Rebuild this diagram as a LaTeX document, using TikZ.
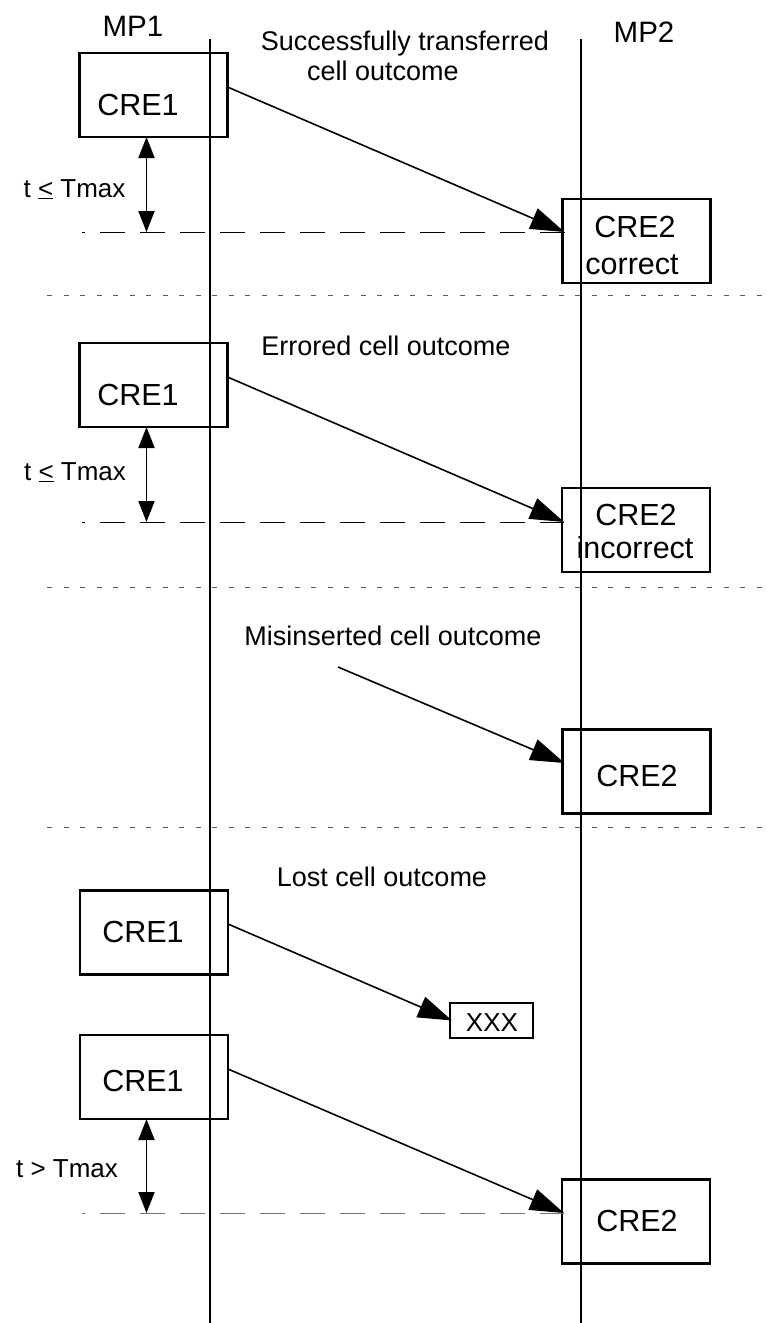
\documentclass[tikz,border=0pt]{standalone}
\usepackage{fontspec}
\setmainfont{Liberation Sans}
\usetikzlibrary{arrows.meta}

\begin{document}
\begin{tikzpicture}[x=1pt,y=-1pt,
  lifeline/.style={line width=2.2pt},
  cellbox/.style={draw, line width=2.2pt, minimum width=148pt, minimum height=84pt,
                  inner sep=0pt, outer sep=0pt},
  smallbox/.style={draw, line width=2.2pt, minimum width=83pt, minimum height=35pt,
                  inner sep=0pt, outer sep=0pt},
  boxtext/.style={anchor=base, inner sep=0pt, font=\fontsize{30.5}{36}\selectfont},
  mptext/.style={anchor=base, inner sep=0pt, font=\fontsize{29.5}{35}\selectfont},
  title/.style={anchor=base, inner sep=0pt, font=\fontsize{27}{32}\selectfont},
  delay/.style={anchor=base, inner sep=0pt, font=\fontsize{26}{31}\selectfont},
  msg/.style={line width=1.6pt, -{Triangle[length=34pt,width=22pt]}},
  span/.style={line width=1.9pt,
               {Triangle[length=21pt,width=16pt]}-{Triangle[length=21pt,width=16pt]}},
  guide/.style={line width=0.9pt, dash pattern=on 25pt off 15pt, dash phase=22pt},
  divider/.style={line width=1pt, black!65, dash pattern=on 5pt off 11.5pt}
]
\useasboundingbox (0,0) rectangle (766,1323);

% measurement points and lifelines
\coordinate (mp1top) at (210,39);
\coordinate (mp1bot) at (210,1323);
\coordinate (mp2top) at (581,39);
\coordinate (mp2bot) at (581,1323);
\draw[lifeline] (mp1top) -- (mp1bot);
\draw[lifeline] (mp2top) -- (mp2bot);
\node[mptext] (mp1) at (133,36) {MP1};
\node[mptext] (mp2) at (644,42) {MP2};

% section dividers
\coordinate (d1l) at (47,295);  \coordinate (d1r) at (766,295);
\coordinate (d2l) at (47,587);  \coordinate (d2r) at (766,587);
\coordinate (d3l) at (47,827);  \coordinate (d3r) at (766,827);
\draw[divider] (d1l) -- (d1r);
\draw[divider] (d2l) -- (d2r);
\draw[divider] (d3l) -- (d3r);

% ---- successfully transferred cell ----
\node[title] (t1a) at (405,50) {Successfully transferred};
\node[title] (t1b) at (383,80) {cell outcome};
\node[cellbox] (s1a) at (153.5,95) {};
\node[boxtext] (s1at) at (138,115) {CRE1};
\node[cellbox] (s1b) at (636.5,241) {};
\node[boxtext] (s1bt) at (635,237) {CRE2};
\node[boxtext] (s1bu) at (632,274) {correct};
\coordinate (tip1) at ([xshift=2pt,yshift=9pt]s1b.west);
\coordinate (h1) at (82,232);
\coordinate (m1) at (146.5,232);
\draw[guide] (h1) -- (tip1);
\draw[msg] ([yshift=8pt]s1a.east) -- (tip1);
\draw[span] (s1a.south -| m1) -- (m1);
\node[delay] (dl1) at (74.5,197) {t \underline{<} Tmax};

% ---- errored cell ----
\node[title] (t2) at (386,355) {Errored cell outcome};
\node[cellbox] (s2a) at (153.5,385) {};
\node[boxtext] (s2at) at (138,405) {CRE1};
\node[cellbox] (s2b) at (636,530) {};
\node[boxtext] (s2bt) at (636,525) {CRE2};
\node[boxtext] (s2bu) at (635,558) {incorrect};
\coordinate (tip2) at ([xshift=2pt,yshift=8pt]s2b.west);
\coordinate (h2) at (82,522);
\coordinate (m2) at (146.5,522);
\draw[guide] (h2) -- (tip2);
\draw[msg] ([yshift=8pt]s2a.east) -- (tip2);
\draw[span] (s2a.south -| m2) -- (m2);
\node[delay] (dl2) at (75,480) {t \underline{<} Tmax};

% ---- misinserted cell ----
\node[title] (t3) at (393,645) {Misinserted cell outcome};
\node[cellbox] (s3b) at (636.5,771.5) {};
\node[boxtext] (s3bt) at (637,786) {CRE2};
\coordinate (src3) at (338,667);
\draw[msg] (src3) -- ([xshift=2pt,yshift=8.5pt]s3b.west);

% ---- lost cell ----
\node[title] (t4) at (382,886) {Lost cell outcome};
\node[cellbox] (s4a) at (154,932.5) {};
\node[boxtext] (s4at) at (143,942) {CRE1};
\node[smallbox] (xxx) at (491.5,1020.5) {};
\node[delay] (xxxt) at (492,1031) {XXX};
\draw[msg] ([yshift=8.5pt]s4a.east) -- ([xshift=2pt]xxx.west);

\node[cellbox] (s4c) at (154,1077) {};
\node[boxtext] (s4ct) at (143,1091) {CRE1};
\node[cellbox] (s4d) at (636,1221.5) {};
\node[boxtext] (s4dt) at (637,1231) {CRE2};
\coordinate (tip4) at ([xshift=2pt,yshift=8.5pt]s4d.west);
\coordinate (h4) at (82,1213);
\coordinate (m4) at (146.5,1213);
\draw[guide, black!55] (h4) -- (tip4);
\draw[msg] ([yshift=8pt]s4c.east) -- (tip4);
\draw[span] (s4c.south -| m4) -- (m4);
\node[delay] (dl4) at (67,1177) {t > Tmax};
\end{tikzpicture}
\end{document}
